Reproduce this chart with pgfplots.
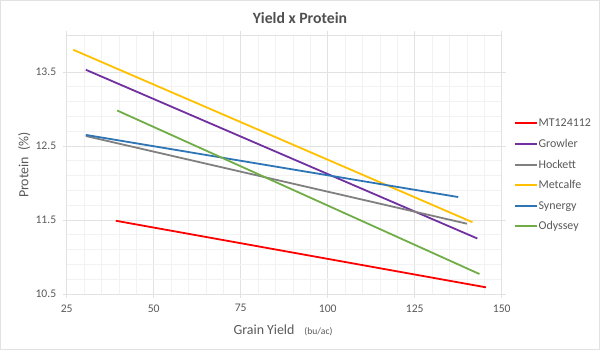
\documentclass[border=0pt]{standalone}
\usepackage{fontspec}
\setmainfont{Carlito}
\usepackage{pgfplots}
\pgfplotsset{compat=1.18}

\definecolor{txt}{HTML}{595959}
\definecolor{gmaj}{HTML}{E2E2E2}
\definecolor{gmin}{HTML}{F2F2F2}
\definecolor{seriesred}{HTML}{FF0000}
\definecolor{seriespurple}{HTML}{7030A0}
\definecolor{seriesgray}{HTML}{808080}
\definecolor{seriesyellow}{HTML}{FFC000}
\definecolor{seriesblue}{HTML}{2E75B6}
\definecolor{seriesgreen}{HTML}{70AD47}

\begin{document}
\begin{tikzpicture}
  % frame of the whole picture: 600 x 350 px, axis origin at px (66.7, 294)
  \useasboundingbox (-66.7bp,-56bp) rectangle (533.3bp,294bp);
  \draw[gmaj, line width=1.2bp] (-66.1bp,-55.4bp) rectangle (532.7bp,293.4bp);

  \begin{axis}[
    at={(0,0)}, anchor=origin,
    scale only axis,
    width=435bp, height=259bp,
    xmin=25, xmax=150, ymin=10.5, ymax=14,
    xtick={25,50,75,100,125,150},
    ytick={10.5,11.5,12.5,13.5},
    minor x tick num=4, minor y tick num=4,
    grid=both,
    major grid style={gmaj, line width=0.8bp},
    minor grid style={gmin, line width=0.7bp},
    axis line style={gmaj, line width=0.8bp},
    tick align=outside,
    major tick length=4bp, minor tick length=0pt,
    tick style={gmaj, line width=0.8bp},
    /pgf/number format/assume math mode=true,
    yticklabel style={/pgf/number format/fixed, /pgf/number format/fixed zerofill,
      /pgf/number format/precision=1, xshift=-3bp},
    ticklabel style={font=\fontsize{11.7}{13}\selectfont, text=txt},
    xticklabel style={yshift=-3bp},
    legend style={draw=none, fill=none, at={(1.02,0.692)}, anchor=north west,
      font=\fontsize{12}{14}\selectfont, text=txt, row sep=7.6bp,
      nodes={inner sep=1bp, text height=9bp, text depth=2bp}},
    legend cell align=left,
    legend image code/.code={\draw[#1] (0bp,0bp) -- (22bp,0bp);},
  ]
    \addlegendimage{seriesred, line width=2bp}
    \addlegendentry{MT124112}
    \addlegendimage{seriespurple, line width=2bp}
    \addlegendentry{Growler}
    \addlegendimage{seriesgray, line width=2bp}
    \addlegendentry{Hockett}
    \addlegendimage{seriesyellow, line width=2bp}
    \addlegendentry{Metcalfe}
    \addlegendimage{seriesblue, line width=2bp}
    \addlegendentry{Synergy}
    \addlegendimage{seriesgreen, line width=2bp}
    \addlegendentry{Odyssey}

    \addplot[seriesred, line width=1.8bp, forget plot] coordinates {(39.1,11.49) (145.5,10.59)};
    \addplot[seriespurple, line width=1.8bp, forget plot] coordinates {(30.5,13.53) (143.0,11.25)};
    \addplot[seriesgray, line width=1.8bp, forget plot] coordinates {(30.5,12.635) (140.0,11.45)};
    \addplot[seriesyellow, line width=1.8bp, forget plot] coordinates {(26.9,13.80) (141.6,11.47)};
    \addplot[seriesblue, line width=1.8bp, forget plot] coordinates {(30.5,12.65) (137.5,11.81)};
    \addplot[seriesgreen, line width=1.8bp, forget plot] coordinates {(39.5,12.98) (143.6,10.77)};
    \draw[black!25, line width=0.8bp] (axis cs:25,10.5) -- (axis cs:150,10.5);
  \end{axis}

  \node[font=\bfseries\fontsize{15.8}{18}\selectfont, text=txt!90!black] at (233.3bp,275.5bp) {Yield x Protein};
  \node[rotate=90, font=\fontsize{14}{16}\selectfont, text=txt] at (-42.5bp,129bp) {Protein\ \ (\%)};
  \node[font=\fontsize{14}{16}\selectfont, text=txt, anchor=base west, inner sep=0pt] at (166.6bp,-40bp)
    {Grain Yield\hspace{10bp}{\fontsize{9.6}{11}\selectfont(bu/ac)}};
\end{tikzpicture}
\end{document}
